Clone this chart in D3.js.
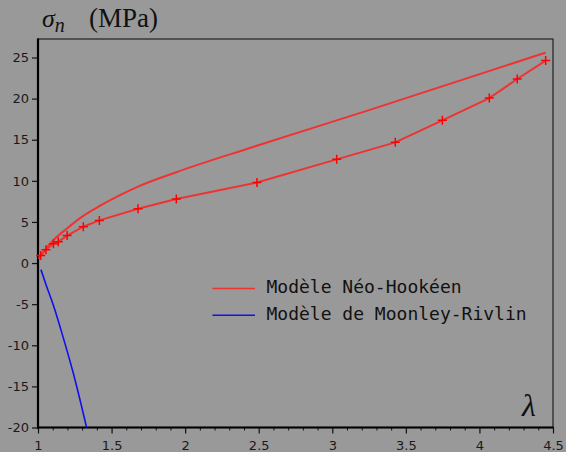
<!DOCTYPE html>
<html>
<head>
<meta charset="utf-8">
<script src="https://cdn.jsdelivr.net/npm/d3@7"></script>
<style>
  html, body { margin: 0; padding: 0; background: #999999; }
  svg { display: block; }
</style>
</head>
<body>
<svg id="chart" width="566" height="452"></svg>
<script>
// Contrainte nominale vs élongation — deux modèles + points mesurés.

// Modèle Néo-Hookéen (courbe lisse)
const neoLambda = [1.005, 1.03, 1.06, 1.1, 1.2, 1.3, 1.42, 1.55, 1.68, 1.94, 2.44, 3.25, 4.45];
const neoSigma  = [0.5, 1.15, 1.9, 2.7, 4.25, 5.65, 6.95, 8.2, 9.3, 11.05, 14.0, 18.6, 25.6];

// Points expérimentaux (courbe avec marqueurs +)
const expLambda = [1.008, 1.018, 1.054, 1.105, 1.138, 1.198, 1.308, 1.417, 1.68, 1.94, 2.488, 3.03, 3.428, 3.748, 4.067, 4.257, 4.45];
const expSigma  = [0.7, 0.93, 1.63, 2.36, 2.58, 3.34, 4.42, 5.19, 6.61, 7.78, 9.79, 12.61, 14.68, 17.36, 20.07, 22.38, 24.62];

// Modèle de Mooney-Rivlin
const mrLambda = [1.02, 1.06, 1.104, 1.172, 1.24, 1.331];
const mrSigma  = [-0.8, -2.9, -5.1, -9.1, -13.4, -20.05];

const xTicks = [1, 1.5, 2, 2.5, 3, 3.5, 4, 4.5];
const yTicks = [-20, -15, -10, -5, 0, 5, 10, 15, 20, 25];

const legendItems = [
  { label: "Modèle Néo-Hookéen", color: "#ee3333" },
  { label: "Modèle de Moonley-Rivlin", color: "#1010ee" },
];

const M = { left: 38, top: 39, right: 553, bottom: 427.5 };

const svg = d3.select("#chart");

const x = d3.scaleLinear().domain([1, 4.5]).range([M.left, M.right]);
const y = d3.scaleLinear().domain([-20, 27.25]).range([M.bottom, M.top]);

svg.append("defs").append("clipPath").attr("id", "plot-clip")
  .append("rect")
  .attr("x", M.left).attr("y", M.top)
  .attr("width", M.right - M.left).attr("height", M.bottom - M.top);

// frame (top + right thinner)
svg.append("rect")
  .attr("x", M.left).attr("y", M.top)
  .attr("width", M.right - M.left).attr("height", M.bottom - M.top)
  .attr("fill", "none").attr("stroke", "#2a2a2a").attr("stroke-width", 1.3);

// ---------------- axes ----------------

const tickFont = "'DejaVu Sans', sans-serif";

// x minor ticks
const minor = d3.range(1, 4.5001, 0.1).filter((v) => Math.abs(v * 2 - Math.round(v * 2)) > 1e-6);
svg.append("g")
  .attr("transform", `translate(0,${M.bottom})`)
  .call(d3.axisBottom(x).tickValues(minor).tickSize(3).tickFormat(""))
  .call((g) => g.select(".domain").remove())
  .call((g) => g.selectAll("line").attr("stroke", "#111").attr("stroke-width", 1));

const xAxis = svg.append("g")
  .attr("transform", `translate(0,${M.bottom})`)
  .call(d3.axisBottom(x).tickValues(xTicks).tickSize(6).tickPadding(7).tickFormat((d) => String(d)));
xAxis.select(".domain").remove();
xAxis.selectAll("line").attr("stroke", "#111").attr("stroke-width", 1.2);
xAxis.selectAll("text")
  .attr("fill", "#1a1a1a").attr("font-family", tickFont).attr("font-size", 13);

const yAxis = svg.append("g")
  .attr("transform", `translate(${M.left},0)`)
  .call(d3.axisLeft(y).tickValues(yTicks).tickSize(6).tickPadding(3).tickFormat((d) => String(d)));
yAxis.select(".domain").remove();
yAxis.selectAll("line").attr("stroke", "#111").attr("stroke-width", 1.2);
yAxis.selectAll("text")
  .attr("fill", "#1a1a1a").attr("font-family", tickFont).attr("font-size", 13);

// thick left + bottom axis lines
svg.append("line")
  .attr("x1", M.left).attr("x2", M.left).attr("y1", M.top - 0.6).attr("y2", M.bottom + 1)
  .attr("stroke", "#000").attr("stroke-width", 2.2);
svg.append("line")
  .attr("x1", M.left - 1).attr("x2", M.right + 0.6).attr("y1", M.bottom).attr("y2", M.bottom)
  .attr("stroke", "#000").attr("stroke-width", 2.2);

// ---------------- series ----------------

const plot = svg.append("g").attr("clip-path", "url(#plot-clip)");

const smooth = d3.line()
  .x((d) => x(d[0]))
  .y((d) => y(d[1]))
  .curve(d3.curveMonotoneX);
const straight = d3.line()
  .x((d) => x(d[0]))
  .y((d) => y(d[1]));

const neo = d3.zip(neoLambda, neoSigma);
const exp = d3.zip(expLambda, expSigma);
const mr = d3.zip(mrLambda, mrSigma);

plot.append("path").datum(neo)
  .attr("d", smooth).attr("fill", "none")
  .attr("stroke", "#ee3333").attr("stroke-width", 2);

plot.append("path").datum(exp)
  .attr("d", straight).attr("fill", "none")
  .attr("stroke", "#ee3333").attr("stroke-width", 2);

plot.append("path").datum(mr)
  .attr("d", smooth).attr("fill", "none")
  .attr("stroke", "#1010ee").attr("stroke-width", 1.6);

// "+" markers on the measured points
svg.append("g").selectAll("path")
  .data(exp.slice(1))
  .join("path")
  .attr("d", (d) => {
    const cx = x(d[0]), cy = y(d[1]), r = 4.5;
    return `M${cx - r},${cy}H${cx + r}M${cx},${cy - r}V${cy + r}`;
  })
  .attr("stroke", "#ff0000").attr("stroke-width", 1.5).attr("fill", "none");

// ---------------- legend ----------------

const legend = svg.append("g");
legendItems.forEach((it, i) => {
  const ly = 288.5 + i * 26.7;
  legend.append("line")
    .attr("x1", 212.5).attr("x2", 255).attr("y1", ly).attr("y2", ly)
    .attr("stroke", it.color).attr("stroke-width", 1.5);
  legend.append("text")
    .attr("x", 266.5).attr("y", ly + 4.3)
    .attr("font-family", "'DejaVu Sans Mono', monospace")
    .attr("font-size", 18)
    .attr("fill", "#111")
    .text(it.label);
});

// ---------------- titles ----------------

const title = svg.append("text")
  .attr("x", 42).attr("y", 26.5)
  .attr("font-family", "'Liberation Serif', 'DejaVu Serif', serif")
  .attr("fill", "#111");
title.append("tspan").attr("font-style", "italic").attr("font-size", 26).text("σ");
title.append("tspan").attr("font-style", "italic").attr("font-size", 20).attr("dy", 5).text("n");
title.append("tspan").attr("font-size", 27).attr("x", 89).attr("dy", -5).text("(MPa)");

svg.append("text")
  .attr("x", 522).attr("y", 416)
  .attr("font-family", "'Liberation Serif', 'DejaVu Serif', serif")
  .attr("font-style", "italic")
  .attr("font-size", 32)
  .attr("fill", "#111")
  .text("λ");
</script>
</body>
</html>
